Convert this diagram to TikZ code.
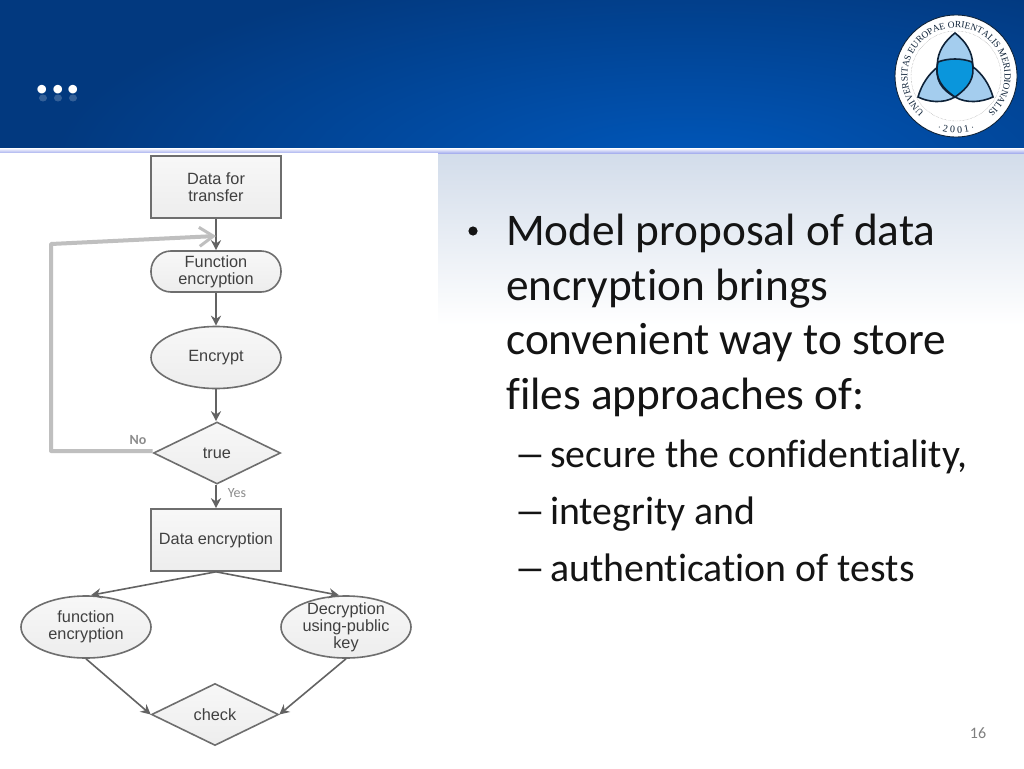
\documentclass[tikz,border=0pt]{standalone}
\usepackage{fontspec}
\setmainfont[Ligatures=CommonOff]{Carlito}
\newfontfamily\flowfont{Liberation Sans}
\newfontfamily\sealfont{Liberation Serif}
\usetikzlibrary{arrows.meta,shapes.geometric,decorations.text}
\definecolor{headdark}{HTML}{02397F}
\definecolor{headlight}{HTML}{0058BC}
\definecolor{panel}{HTML}{D2DCEA}
\definecolor{sealdark}{HTML}{0E2238}
\definecolor{petal}{HTML}{A4CDEE}
\definecolor{core}{HTML}{0A96DC}
\definecolor{flowline}{HTML}{6E6E6E}
\definecolor{bodytext}{HTML}{141414}
\tikzset{
	flowtext/.style={inner sep=0pt, align=center, font=\flowfont\fontsize{16.3}{17}\selectfont, text=black!75},
	flowshape/.style={flowtext, draw=flowline, line width=1.6pt, top color=black!3, bottom color=black!7},
	flowbox/.style={flowshape, rectangle, minimum width=130pt, minimum height=62pt},
	flowpill/.style={flowshape, rectangle, rounded corners=20pt, minimum width=130pt, minimum height=41pt},
	flowoval/.style={flowshape, ellipse, minimum width=130pt, minimum height=62pt},
	flowtest/.style={flowshape, diamond, aspect=2, minimum width=127pt, minimum height=62pt},
	flowarrow/.style={-{Stealth[length=10pt,width=10pt]}, draw=flowline!90!black, line width=1.6pt},
	flowword/.style={font=\fontsize{14}{14}\selectfont, text=black!45},
	mainline/.style={anchor=base west, inner sep=0pt, text=bodytext, font=\fontsize{45.3}{45.3}\selectfont},
	subline/.style={anchor=base west, inner sep=0pt, text=bodytext, font=\fontsize{39.8}{39.8}\selectfont},
	petalline/.style={draw=sealdark, line width=1.6pt, fill=petal}
}
\begin{document}
\begin{tikzpicture}[x=1pt, y=-1pt]
		\useasboundingbox (0, 0) rectangle (1024, 768);
		%%%%% BACKGROUND %%%%%
		\fill[white] (0, 0) rectangle (1024, 768);
		\shade[top color=panel, bottom color=white] (438, 152) rectangle (1024, 325);
		\fill[headdark] (0, 0) rectangle (1024, 148);
		\begin{scope}
			\clip (0, 0) rectangle (1024, 148);
			\shade[inner color=headlight, outer color=headdark] (690, 170) ellipse (640 and 210);
		\end{scope}
		\shade[top color=white, bottom color=panel!80!blue] (0, 148) rectangle (1024, 153);
		\fill[white] (0, 153) rectangle (438, 768);

		%%%%% TITLE %%%%%
		\foreach \dotx in {43, 58, 73} {
			\fill[white, opacity=0.2] (\dotx, 98) ellipse (4 and 3.5);
		}
		\node[anchor=base, inner sep=0pt, text=white, font=\bfseries\fontsize{58}{58}\selectfont] (title) at (58, 93) {...};

		%%%%% SEAL %%%%%
		\fill[white] (956, 76) circle (61);
		\draw[sealdark, line width=0.9pt] (956, 76) circle (61);
		\draw[black!45, line width=0.4pt, densely dotted] (956, 76) circle (45);
		\path[decorate, decoration={text along path, text align=center, text color=sealdark, text={|\sealfont\fontsize{9.4}{9.4}\selectfont|UNIVERSITAS EUROPAE ORIENTALIS MERIDIONALIS}}] (956, 76) ++(-232:48.5) arc (-232:52:48.5);
		\path[decorate, decoration={text along path, text align=center, text color=sealdark, text={|\sealfont\fontsize{10}{10}\selectfont|{$\cdot$} 2 0 0 1 {$\cdot$}}}] (956, 76) ++(130:57) arc (130:50:57);
		\draw[petalline] (918, 97) .. controls (925, 72) and (948, 52) .. (972, 62) .. controls (976, 80) and (968, 90) .. (955, 97) .. controls (943, 104) and (928, 102) .. (918, 97) -- cycle;
		\draw[petalline] (993, 97) .. controls (986, 72) and (963, 52) .. (938, 62) .. controls (934, 80) and (942, 90) .. (955, 97) .. controls (967, 104) and (982, 102) .. (993, 97) -- cycle;
		\draw[petalline] (955, 33) .. controls (933, 50) and (930, 76) .. (955, 97) .. controls (980, 76) and (977, 50) .. (955, 33) -- cycle;
		\draw[petalline, fill=core] (938, 62) .. controls (948, 58) and (962, 58) .. (972, 62) .. controls (976, 78) and (968, 88) .. (955, 97) .. controls (942, 88) and (934, 78) .. (938, 62) -- cycle;

		%%%%% FLOW %%%%%
		\node[flowbox] (transfer) at (216, 187) {Data for\\transfer};
		\node[flowpill] (funcenc) at (216, 271.5) {Function\\encryption};
		\node[flowoval] (encrypt) at (216, 357.5) {Encrypt};
		\node[flowtest] (istrue) at (217, 453) {true};
		\node[flowbox] (dataenc) at (216, 540) {Data encryption};
		\node[flowoval] (funcleft) at (86, 627) {function\\encryption};
		\node[flowoval] (decrypt) at (346, 627) {};
		\node[flowtext] (decrypttext) at (decrypt) {Decryption\\using-public\\key};
		\node[flowtest] (check) at (215, 714.5) {check};

		\draw[flowarrow] (transfer) -- (funcenc);
		\draw[flowarrow] (funcenc) -- (encrypt);
		\draw[flowarrow] (encrypt) -- (encrypt |- istrue.north);
		\draw[flowarrow] (istrue.south -| dataenc) -- (dataenc);
		\draw[flowarrow] (dataenc.south) -- ([xshift=5pt]funcleft.north);
		\draw[flowarrow] (dataenc.south) -- ([xshift=-7pt]decrypt.north);
		\draw[flowarrow] (funcleft.south) -- (check.west);
		\draw[flowarrow] (decrypt.south) -- (check.east);

		\coordinate (loopdown) at (51, 451);
		\coordinate (loopup) at (51, 244);
		\coordinate (looptip) at (216, 236);
		\draw[black!25, line width=4pt, line join=round, -{Straight Barb[length=14pt,width=19pt,line width=3pt]}] (istrue.west |- loopdown) -- (loopdown) -- (loopup) -- (looptip);

		\node[flowword] (nolabel) at (138, 440) {\bfseries No};
		\node[flowword] (yeslabel) at (237, 493) {Yes};

		%%%%% TEXT %%%%%
		\fill[bodytext] (473, 231) circle (4.6);
		\node[mainline] (lineone) at (506, 245) {Model proposal of data};
		\node[mainline] (linetwo) at (506, 300) {encryption brings};
		\node[mainline] (linethree) at (506, 354) {convenient way to store};
		\node[mainline] (linefour) at (506, 409) {files approaches of:};
		\foreach \suby/\subname/\subtext in {467/subone/{secure the confidentiality,}, 524/subtwo/{integrity and}, 581/subthree/{authentication of tests}} {
			\node[subline] at (514.5, \suby) {\scalebox{1.6}[1]{--}};
			\node[subline] (\subname) at (550, \suby) {\subtext};
		}
		\node[text=black!50, font=\fontsize{16}{16}\selectfont] (pagenum) at (978, 733) {16};
	\end{tikzpicture}
\end{document}
